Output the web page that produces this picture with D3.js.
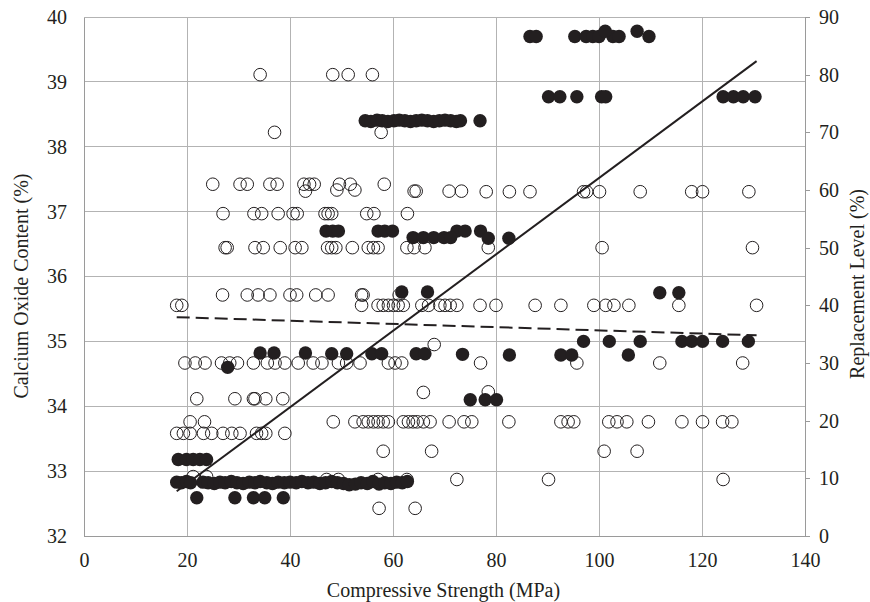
<!DOCTYPE html>
<html><head><meta charset="utf-8">
<script src="https://cdn.jsdelivr.net/npm/d3@7"></script>
<style>body{margin:0;background:#fff}svg{display:block}</style>
</head><body><svg id="c" width="870" height="602"></svg>
<script>
const xTicks=[0,20,40,60,80,100,120,140];
const caoTicks=[32,33,34,35,36,37,38,39,40];
const replTicks=[0,10,20,30,40,50,60,70,80,90];

// Open circles: [compressive strength, replacement level]
const replacementPoints=[
[34.2,80],[48.3,80],[51.3,80],[56.0,80],
[37.0,70],[57.7,70],
[25.0,61],[30.3,61],[31.7,61],[36.1,61],[37.5,61],[42.7,61],[43.8,61],[44.7,61],[49.6,61],[51.7,61],[58.3,61],
[43.0,59.8],[49.1,60],[52.6,60],[64.1,59.8],[64.5,59.8],[70.9,59.8],[73.3,59.8],[78.1,59.7],[82.6,59.7],[86.6,59.7],[97.0,59.7],[97.6,59.7],[100.1,59.7],[108.0,59.7],[118.0,59.7],[120.1,59.7],[129.1,59.7],
[27.0,55.9],[33.0,55.9],[34.5,55.9],[37.7,55.9],[40.6,55.9],[41.4,55.9],[46.8,55.9],[47.4,55.9],[48.1,55.9],[54.9,55.9],[56.3,55.9],[62.8,55.9],
[27.4,50],[27.8,50],[33.2,50],[34.8,50],[38.1,50],[41.0,50],[42.3,50],[47.3,50],[48.1,50],[48.9,50],[52.1,50],[55.2,50],[56.2,50],[57.1,50],[62.7,50],[64.1,50],[66.2,50],[78.5,50],[100.6,50],[129.8,50],
[26.9,41.8],[31.7,41.8],[33.8,41.8],[36.1,41.8],[40.0,41.8],[41.3,41.8],[45.0,41.8],[47.4,41.8],[53.9,41.8],[54.2,41.8],[61.2,41.8],
[18.0,40],[19.0,40],[53.9,40],[57.1,40],[58.1,40],[59.1,40],[60.1,40],[61.0,40],[62.0,40],[65.6,40],[66.9,40],[69.1,40],[70.1,40],[71.1,40],[72.4,40],[76.9,40],[80.0,40],[87.6,40],[92.6,40],[99.0,40],[101.3,40],[102.9,40],[105.8,40],[115.5,40],[130.6,40],
[68.0,33.2],
[19.6,30],[21.6,30],[23.5,30],[26.7,30],[28.3,30],[29.8,30],[32.9,30],[35.6,30],[37.1,30],[39.0,30],[41.6,30],[44.5,30],[46.2,30],[49.4,30],[51.0,30],[53.6,30],[59.1,30],[60.4,30],[61.7,30],[77.0,30],[95.7,30],[111.8,30],[127.9,30],
[65.9,24.9],[78.5,25],
[21.9,23.8],[29.3,23.8],[32.9,23.8],[33.2,23.8],[35.3,23.8],[38.6,23.8],
[20.6,19.8],[23.4,19.8],[48.4,19.8],[52.6,19.8],[54.2,19.8],[55.2,19.8],[56.2,19.8],[57.1,19.8],[58.1,19.8],[59.1,19.8],[62.0,19.8],[63.0,19.8],[63.9,19.8],[64.7,19.8],[65.9,19.8],[67.2,19.8],[70.9,19.8],[73.8,19.8],[75.3,19.8],[82.5,19.8],[92.6,19.8],[94.0,19.8],[95.1,19.8],[101.9,19.8],[103.5,19.8],[105.4,19.8],[109.6,19.8],[116.1,19.8],[120.1,19.8],[124.0,19.8],[125.8,19.8],
[18.0,17.8],[19.3,17.8],[20.6,17.8],[23.2,17.8],[24.8,17.8],[27.0,17.8],[28.7,17.8],[30.3,17.8],[33.5,17.8],[34.5,17.8],[35.3,17.8],[39.0,17.8],
[58.1,14.7],[67.5,14.7],[101.0,14.7],[107.4,14.7],
[21.2,10.3],[23.8,10.3],[47.1,9.8],[49.4,9.8],[57.1,9.8],[62.7,9.8],[72.4,9.8],[90.2,9.8],[124.1,9.8],
[57.3,4.8],[64.3,4.8]
];

// Filled circles: [compressive strength, calcium oxide content]
const caoPoints=[
[86.6,39.7],[87.8,39.7],[95.3,39.7],[97.5,39.7],[98.8,39.7],[100.0,39.7],[102.7,39.7],[103.9,39.7],[109.7,39.7],
[101.2,39.78],[107.4,39.78],
[90.2,38.77],[92.4,38.77],[95.7,38.77],[100.5,38.77],[101.3,38.77],[124.1,38.77],[126.1,38.77],[128.0,38.77],[130.3,38.77],
[54.6,38.4],[55.7,38.39],[56.9,38.41],[57.9,38.4],[59.0,38.39],[60.2,38.4],[61.2,38.41],[62.3,38.4],[63.4,38.39],[64.5,38.4],[65.6,38.41],[66.7,38.4],[67.9,38.39],[69.0,38.4],[70.1,38.41],[71.2,38.4],[72.3,38.39],[73.1,38.4],[76.9,38.4],
[47.0,36.7],[48.3,36.7],[49.4,36.7],[57.1,36.7],[58.4,36.7],[59.9,36.7],[72.4,36.7],[74.0,36.7],[77.0,36.7],
[63.9,36.6],[65.9,36.6],[67.9,36.6],[69.9,36.6],[71.2,36.6],[78.5,36.59],[82.5,36.59],
[61.7,35.76],[66.7,35.76],[111.8,35.75],[115.5,35.75],
[97.0,35.0],[102.0,35.0],[108.0,35.0],[116.1,35.0],[118.0,35.0],[120.1,35.0],[124.0,35.0],[129.0,35.0],
[34.2,34.82],[36.9,34.82],[43.0,34.82],[48.1,34.81],[51.0,34.81],[55.9,34.81],[57.8,34.81],[64.5,34.81],[66.2,34.81],[73.5,34.8],[82.6,34.79],[92.6,34.79],[94.7,34.79],[105.7,34.79],
[27.9,34.6],
[75.0,34.1],[77.9,34.1],[80.1,34.1],
[18.3,33.18],[19.9,33.18],[21.2,33.18],[22.5,33.18],[23.8,33.18],
[18.0,32.83],[18.9,32.82],[19.9,32.84],[20.7,32.82],[23.1,32.83],[24.1,32.82],[25.3,32.81],[26.4,32.83],[27.4,32.82],[28.6,32.84],[29.7,32.82],[30.9,32.81],[32.1,32.83],[33.2,32.82],[34.2,32.84],[35.5,32.82],[36.6,32.81],[37.7,32.83],[38.9,32.82],[40.0,32.83],[41.2,32.82],[42.3,32.84],[43.5,32.82],[44.6,32.83],[45.8,32.81],[46.9,32.82],[48.1,32.84],[49.2,32.82],[50.4,32.81],[51.5,32.79],[52.7,32.8],[53.8,32.82],[55.0,32.81],[56.1,32.84],[57.3,32.8],[58.4,32.82],[59.6,32.81],[60.7,32.83],[61.8,32.82],[62.8,32.84],
[21.9,32.59],[29.3,32.59],[32.9,32.59],[35.1,32.59],[38.7,32.59]
];

const caoTrend=[[18,32.69],[130.6,39.32]];
const replacementTrend=[[18,37.95],[130.6,34.8]];

const svg=d3.select('#c');
const font='"Liberation Serif","Times New Roman",serif';
const fs=20;
const x=d3.scaleLinear().domain([0,140]).range([84,805]);
const yL=d3.scaleLinear().domain([32,40]).range([536,17]);
const yR=d3.scaleLinear().domain([0,90]).range([536,17]);
const gridCol='#b3b3b3', axisCol='#9a9a9a', txt='#231f20';

// gridlines
svg.append('g').selectAll('line').data(caoTicks).join('line')
  .attr('x1',x(0)).attr('x2',x(140)).attr('y1',d=>yL(d)).attr('y2',d=>yL(d))
  .attr('stroke',gridCol).attr('stroke-width',1).attr('shape-rendering','crispEdges');
svg.append('g').selectAll('line').data(xTicks).join('line')
  .attr('x1',d=>x(d)).attr('x2',d=>x(d)).attr('y1',yL(32)).attr('y2',yL(40))
  .attr('stroke',gridCol).attr('stroke-width',1).attr('shape-rendering','crispEdges');

// axes
const ax=svg.append('g').attr('transform',`translate(0,${yL(32)})`)
  .call(d3.axisBottom(x).tickValues(xTicks).tickSize(0).tickPadding(17));
const al=svg.append('g').attr('transform',`translate(${x(0)},0)`)
  .call(d3.axisLeft(yL).tickValues(caoTicks).tickSize(0).tickPadding(17));
const ar=svg.append('g').attr('transform',`translate(${x(140)},0)`)
  .call(d3.axisRight(yR).tickValues(replTicks).tickSize(5).tickPadding(9));
[ax,al,ar].forEach(g=>{
  g.selectAll('path').attr('stroke',axisCol).attr('shape-rendering','crispEdges');
  g.selectAll('line').attr('stroke',axisCol).attr('shape-rendering','crispEdges');
  g.selectAll('text').attr('font-family',font).attr('font-size',fs).attr('fill',txt);
});

// trend lines
const lineL=d3.line().x(d=>x(d[0])).y(d=>yL(d[1]));
const lineR=d3.line().x(d=>x(d[0])).y(d=>yR(d[1]));
svg.append('path').attr('d',lineR(replacementTrend)).attr('fill','none')
  .attr('stroke','#231f20').attr('stroke-width',2).attr('stroke-dasharray','13,6');
svg.append('path').attr('d',lineL(caoTrend)).attr('fill','none')
  .attr('stroke','#231f20').attr('stroke-width',2);

// points
svg.append('g').selectAll('circle').data(replacementPoints).join('circle')
  .attr('cx',d=>x(d[0])).attr('cy',d=>yR(d[1])).attr('r',6.3)
  .attr('fill','none').attr('stroke','#231f20').attr('stroke-width',1);
svg.append('g').selectAll('circle').data(caoPoints).join('circle')
  .attr('cx',d=>x(d[0])).attr('cy',d=>yL(d[1])).attr('r',6.7)
  .attr('fill','#231f20').attr('stroke','none');

// titles
svg.append('text').attr('x',(x(0)+x(140))/2-1).attr('y',597).attr('text-anchor','middle')
  .attr('font-family',font).attr('font-size',fs).attr('fill',txt).text('Compressive Strength (MPa)');
svg.append('text').attr('transform',`translate(28,286) rotate(-90)`).attr('text-anchor','middle')
  .attr('font-family',font).attr('font-size',fs).attr('fill',txt).text('Calcium Oxide Content (%)');
svg.append('text').attr('transform',`translate(864,284) rotate(-90)`).attr('text-anchor','middle')
  .attr('font-family',font).attr('font-size',fs).attr('fill',txt).text('Replacement Level (%)');
</script></body></html>
